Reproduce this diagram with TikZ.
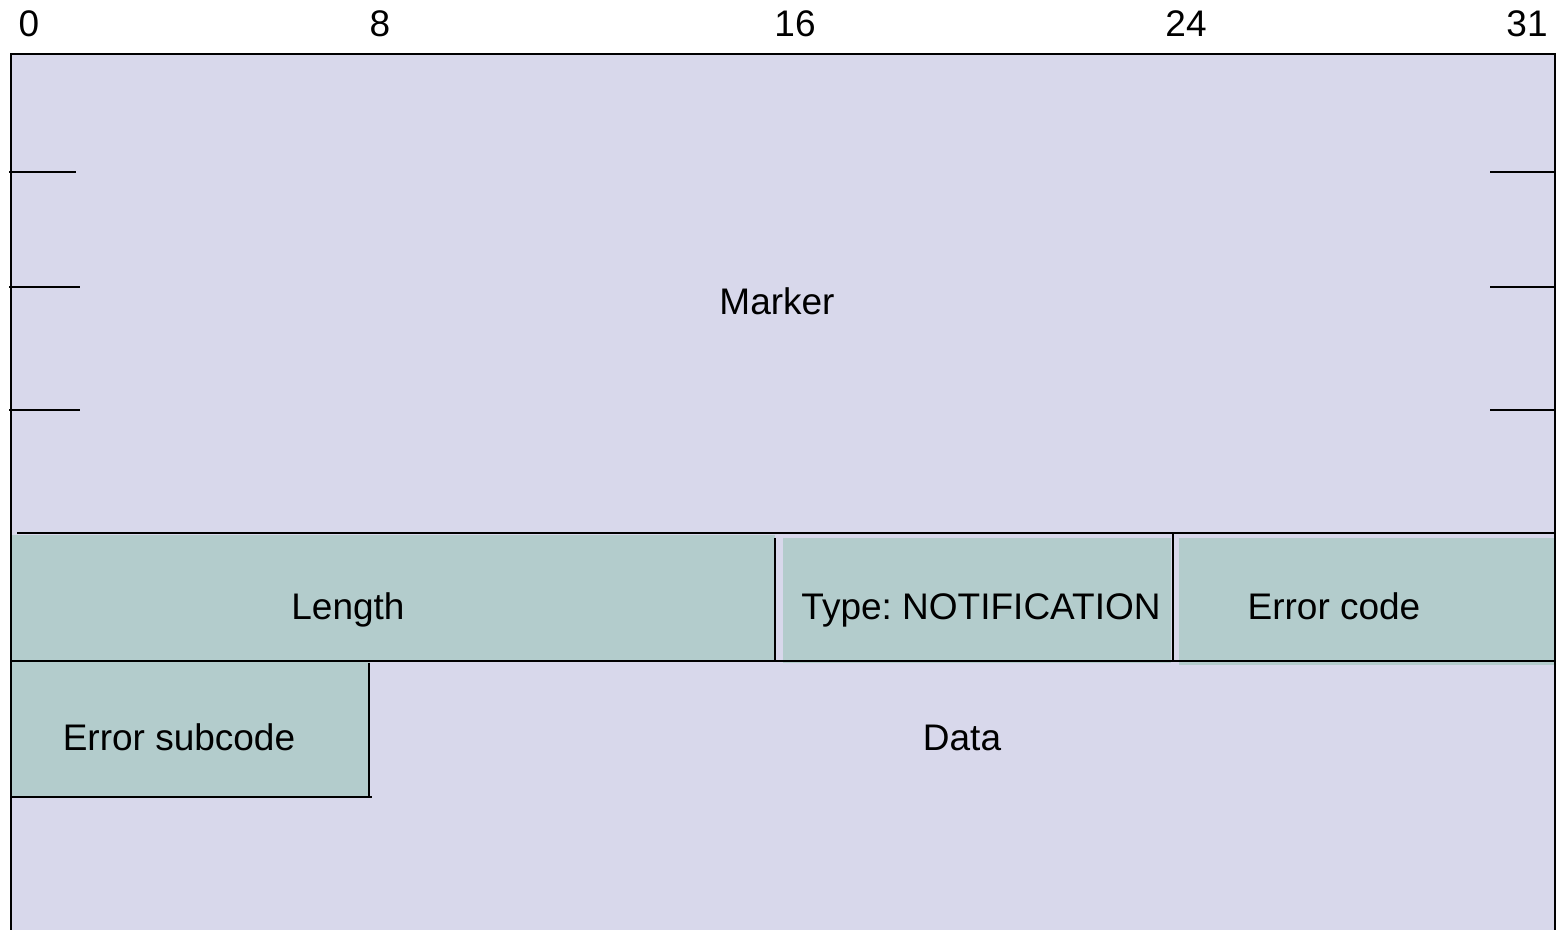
\documentclass[tikz,border=0pt]{standalone}
\usepackage{fontspec}
\setmainfont{Liberation Sans}
\definecolor{markerbg}{HTML}{D8D8EB}
\definecolor{fieldbg}{HTML}{B3CCCC}
\frenchspacing

\begin{document}
\begin{tikzpicture}[x=0.5pt,y=-0.5pt,line width=1pt,font=\fontsize{18.5}{22}\selectfont,
  lbl/.style={anchor=base,inner sep=0pt}]
\useasboundingbox (0,0) rectangle (1560,930);
\fill[markerbg] (11,54) rectangle (1555,930);
\fill[fieldbg] (11,535) rectangle (775,661);
\fill[fieldbg] (783,538) rectangle (1171,663);
\fill[fieldbg] (1179,538) rectangle (1555,665);
\fill[fieldbg] (11,661) rectangle (370,797);
\draw[line width=1.3pt] (11,930)--(11,54)--(1555,54)--(1555,930);
\foreach \ty/\tl in {172/76,287/80,410/80} {
  \draw (9,\ty)--(\tl,\ty);
  \draw (1490,\ty)--(1555,\ty);
}
\draw (17,533)--(1555,533);
\draw (775,538)--(775,661);
\draw (1173,533)--(1173,661);
\draw (11,661)--(1555,661);
\draw (369,663)--(369,797);
\draw (11,797)--(372,797);
\foreach \bit/\xpos in {0/29,8/380,16/795,24/1186,31/1527}
  \node[lbl] (bit\bit) at (\xpos,37) {\bit};
\node[lbl] (marker) at (777,315) {Marker};
\node[lbl] (length) at (348,620) {Length};
\node[lbl] (type) at (981,620) {Type: NOTIFICATION};
\node[lbl] (errcode) at (1334,620) {Error code};
\node[lbl] (errsub) at (179,750) {Error subcode};
\node[lbl] (data) at (962,750) {Data};
\end{tikzpicture}
\end{document}
